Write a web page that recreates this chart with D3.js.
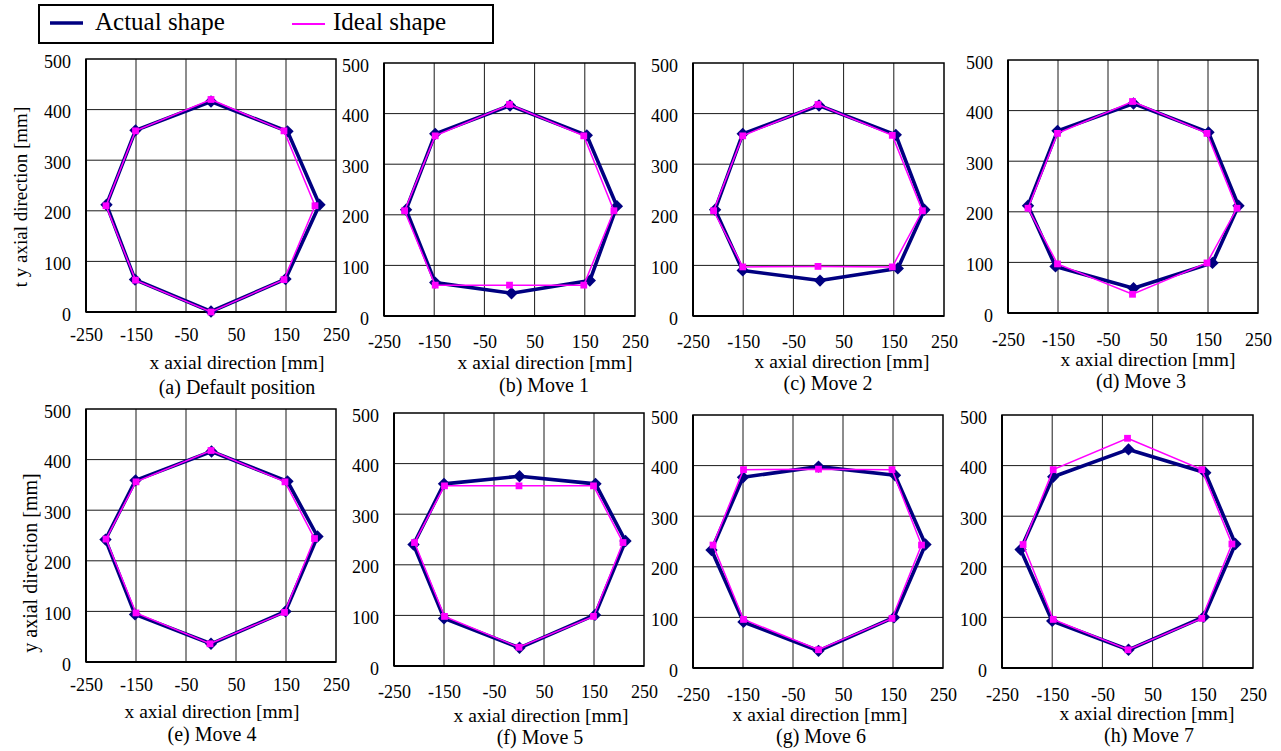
<!DOCTYPE html>
<html>
<head>
<meta charset="utf-8">
<script src="https://cdn.jsdelivr.net/npm/d3@7"></script>
<style>
  body { margin: 0; background: #fff; }
</style>
</head>
<body>
<div id="chart"></div>
<script>
(function () {

  // ---- data ----
  const panelLetters = ["a", "b", "c", "d", "e", "f", "g", "h"];
  const captions = ["(a) Default position", "(b) Move 1", "(c) Move 2", "(d) Move 3",
                    "(e) Move 4", "(f) Move 5", "(g) Move 6", "(h) Move 7"];
  const xTicks = [-250, -150, -50, 50, 150, 250];
  const yTicks = [0, 100, 200, 300, 400, 500];
  const seriesNames = ["Actual shape", "Ideal shape"];

  // vertices, clockwise from the top one [x, y] in mm
  const actualA = [[0, 416], [153, 357], [217, 212], [149, 65], [0, 1], [-152, 64], [-209, 212], [-151, 359]];
  const idealA  = [[0, 420], [146, 358], [208, 210], [146, 64], [0, 0], [-151, 63], [-210, 210], [-151, 358]];
  const actualB = [[1, 416], [154, 357], [214, 217], [160, 70], [4, 45], [-148, 66], [-206, 210], [-148, 360]];
  const idealB  = [[0, 418], [148, 356], [208, 208], [148, 61], [0, 61], [-148, 61], [-209, 208], [-148, 356]];
  const actualC = [[1, 416], [154, 358], [211, 210], [158, 94], [3, 70], [-151, 90], [-206, 210], [-151, 360]];
  const idealC  = [[-1, 418], [147, 357], [207, 208], [147, 97], [-1, 98], [-151, 97], [-209, 208], [-151, 356]];
  const actualD = [[1, 414], [151, 357], [211, 212], [159, 99], [1, 49], [-155, 92], [-210, 212], [-151, 360]];
  const idealD  = [[-1, 418], [148, 355], [208, 207], [148, 99], [-1, 37], [-151, 97], [-210, 207], [-151, 355]];
  const actualE = [[1, 416], [153, 357], [213, 248], [149, 100], [0, 36], [-152, 94], [-211, 242], [-151, 359]];
  const idealE  = [[0, 418], [148, 356], [207, 244], [147, 98], [-2, 36], [-150, 97], [-210, 243], [-150, 356]];
  const actualF = [[1, 375], [153, 360], [213, 247], [152, 101], [1, 36], [-150, 94], [-211, 240], [-150, 360]];
  const idealF  = [[0, 356], [149, 356], [208, 244], [149, 98], [0, 37], [-149, 98], [-209, 244], [-149, 356]];
  const actualG = [[1, 398], [154, 381], [215, 244], [152, 100], [1, 34], [-149, 91], [-213, 233], [-150, 377]];
  const idealG  = [[1, 393], [148, 392], [207, 243], [148, 98], [1, 36], [-149, 96], [-210, 243], [-149, 392]];
  const actualH = [[2, 432], [155, 386], [215, 245], [152, 101], [2, 36], [-150, 93], [-213, 234], [-148, 378]];
  const idealH  = [[0, 454], [148, 392], [208, 245], [148, 98], [1, 36], [-148, 96], [-208, 244], [-148, 392]];

  const actualShapes = [actualA, actualB, actualC, actualD, actualE, actualF, actualG, actualH];
  const idealShapes = [idealA, idealB, idealC, idealD, idealE, idealF, idealG, idealH];

  // ---- layout (pixel boxes of each plot area, label anchors) ----
  const layout = [
    { x: 86,   y: 59,  w: 250, h: 253, gap: 16, tx: 237,  ty: 369, cx: 237,  cy: 394 },
    { x: 384,  y: 63,  w: 251, h: 253, gap: 19, tx: 545,  ty: 369, cx: 544,  cy: 392 },
    { x: 693,  y: 63,  w: 251, h: 253, gap: 19, tx: 842,  ty: 368, cx: 828,  cy: 390 },
    { x: 1008, y: 60,  w: 250, h: 253, gap: 20, tx: 1148, ty: 366, cx: 1141, cy: 388 },
    { x: 86,   y: 409, w: 250, h: 253, gap: 16, tx: 212,  ty: 718, cx: 212,  cy: 741 },
    { x: 394,  y: 413, w: 250, h: 253, gap: 19, tx: 541,  ty: 722, cx: 540,  cy: 744 },
    { x: 693,  y: 415, w: 250, h: 253, gap: 20, tx: 820,  ty: 721, cx: 821,  cy: 743 },
    { x: 1002, y: 415, w: 251, h: 253, gap: 20, tx: 1147, ty: 720, cx: 1149, cy: 742 }
  ];
  const yTitles = [
    { panel: 0, text: "t y axial direction [mm]", x: 27, y: 197, size: 19 },
    { panel: 4, text: "y axial direction [mm]", x: 37, y: 563, size: 20 }
  ];

  const fontFamily = "Liberation Serif";
  const actualColor = "#000080";
  const idealColor = "#ff00ff";

  const svg = d3.select("#chart").append("svg")
    .attr("width", 1281)
    .attr("height", 751)
    .attr("font-family", fontFamily);

  const diamond = d3.symbol().type(d3.symbolSquare).size(76)();
  const square = d3.symbol().type(d3.symbolSquare).size(46)();

  panelLetters.forEach(function (letter, i) {
    const L = layout[i];
    const x = d3.scaleLinear().domain([-250, 250]).range([0, L.w]);
    const y = d3.scaleLinear().domain([0, 500]).range([L.h, 0]);

    const g = svg.append("g")
      .attr("class", "panel-" + letter)
      .attr("transform", "translate(" + L.x + "," + L.y + ")");

    // grid
    g.append("g").selectAll("line")
      .data(xTicks.slice(1, -1))
      .enter().append("line")
      .attr("x1", d => x(d)).attr("x2", d => x(d))
      .attr("y1", 0).attr("y2", L.h)
      .attr("stroke", "#1a1a1a").attr("stroke-width", 1);
    g.append("g").selectAll("line")
      .data(yTicks.slice(1, -1))
      .enter().append("line")
      .attr("x1", 0).attr("x2", L.w)
      .attr("y1", d => y(d)).attr("y2", d => y(d))
      .attr("stroke", "#1a1a1a").attr("stroke-width", 1);

    // frame
    g.append("rect")
      .attr("width", L.w).attr("height", L.h)
      .attr("fill", "none").attr("stroke", "#000").attr("stroke-width", 1.5);
    g.append("line")
      .attr("x1", 0).attr("x2", 0).attr("y1", 0).attr("y2", L.h)
      .attr("stroke", "#000").attr("stroke-width", 2);
    g.append("line")
      .attr("x1", 0).attr("x2", L.w).attr("y1", L.h).attr("y2", L.h)
      .attr("stroke", "#000").attr("stroke-width", 2);

    // tick labels
    const fmt = d => String(d);
    const xAxis = g.append("g")
      .attr("transform", "translate(0," + L.h + ")")
      .call(d3.axisBottom(x).tickValues(xTicks).tickSize(0).tickPadding(L.gap).tickFormat(fmt));
    const yAxis = g.append("g")
      .call(d3.axisLeft(y).tickValues(yTicks).tickSize(0).tickPadding(15).tickFormat(fmt));
    [xAxis, yAxis].forEach(function (ax) {
      ax.attr("font-family", fontFamily).attr("font-size", 18);
      ax.select(".domain").remove();
      ax.selectAll("text").attr("fill", "#000");
    });
    yAxis.selectAll("text").attr("dy", "0.45em");

    const line = d3.line()
      .x(d => x(d[0]))
      .y(d => y(d[1]))
      .curve(d3.curveLinearClosed);

    // actual shape
    g.append("path")
      .datum(actualShapes[i])
      .attr("d", line)
      .attr("fill", "none")
      .attr("stroke", actualColor)
      .attr("stroke-width", 3.6)
      .attr("stroke-linejoin", "round");
    g.selectAll(".dia")
      .data(actualShapes[i])
      .enter().append("path")
      .attr("class", "dia")
      .attr("d", diamond)
      .attr("transform", d => "translate(" + x(d[0]) + "," + y(d[1]) + ") rotate(45)")
      .attr("fill", actualColor);

    // ideal shape
    g.append("path")
      .datum(idealShapes[i])
      .attr("d", line)
      .attr("fill", "none")
      .attr("stroke", idealColor)
      .attr("stroke-width", 1.5);
    g.selectAll(".sq")
      .data(idealShapes[i])
      .enter().append("path")
      .attr("class", "sq")
      .attr("d", square)
      .attr("transform", d => "translate(" + x(d[0]) + "," + y(d[1]) + ")")
      .attr("fill", idealColor);

    // x title + caption
    svg.append("text")
      .attr("x", L.tx).attr("y", L.ty)
      .attr("text-anchor", "middle")
      .attr("font-family", fontFamily)
      .attr("font-size", 19.5)
      .text("x axial direction [mm]");
    svg.append("text")
      .attr("x", L.cx).attr("y", L.cy)
      .attr("text-anchor", "middle")
      .attr("font-family", fontFamily)
      .attr("font-size", 20)
      .text(captions[i]);
  });

  // y titles
  yTitles.forEach(function (t) {
    svg.append("text")
      .attr("transform", "translate(" + t.x + "," + t.y + ") rotate(-90)")
      .attr("text-anchor", "middle")
      .attr("font-family", fontFamily)
      .attr("font-size", t.size)
      .text(t.text);
  });

  // legend
  const legend = svg.append("g").attr("class", "legend");
  legend.append("rect")
    .attr("x", 39).attr("y", 5).attr("width", 454).attr("height", 38)
    .attr("fill", "#fff").attr("stroke", "#000").attr("stroke-width", 2);
  const legendItems = [
    { name: seriesNames[0], color: actualColor, width: 3.5, x1: 50, x2: 83, ly: 23, tx: 95 },
    { name: seriesNames[1], color: idealColor, width: 2, x1: 292, x2: 325, ly: 24, tx: 333 }
  ];
  legendItems.forEach(function (it) {
    legend.append("line")
      .attr("x1", it.x1).attr("x2", it.x2)
      .attr("y1", it.ly).attr("y2", it.ly)
      .attr("stroke", it.color).attr("stroke-width", it.width);
    legend.append("text")
      .attr("x", it.tx).attr("y", 30)
      .attr("font-family", fontFamily)
      .attr("font-size", 25)
      .text(it.name);
  });

})();
</script>
</body>
</html>
